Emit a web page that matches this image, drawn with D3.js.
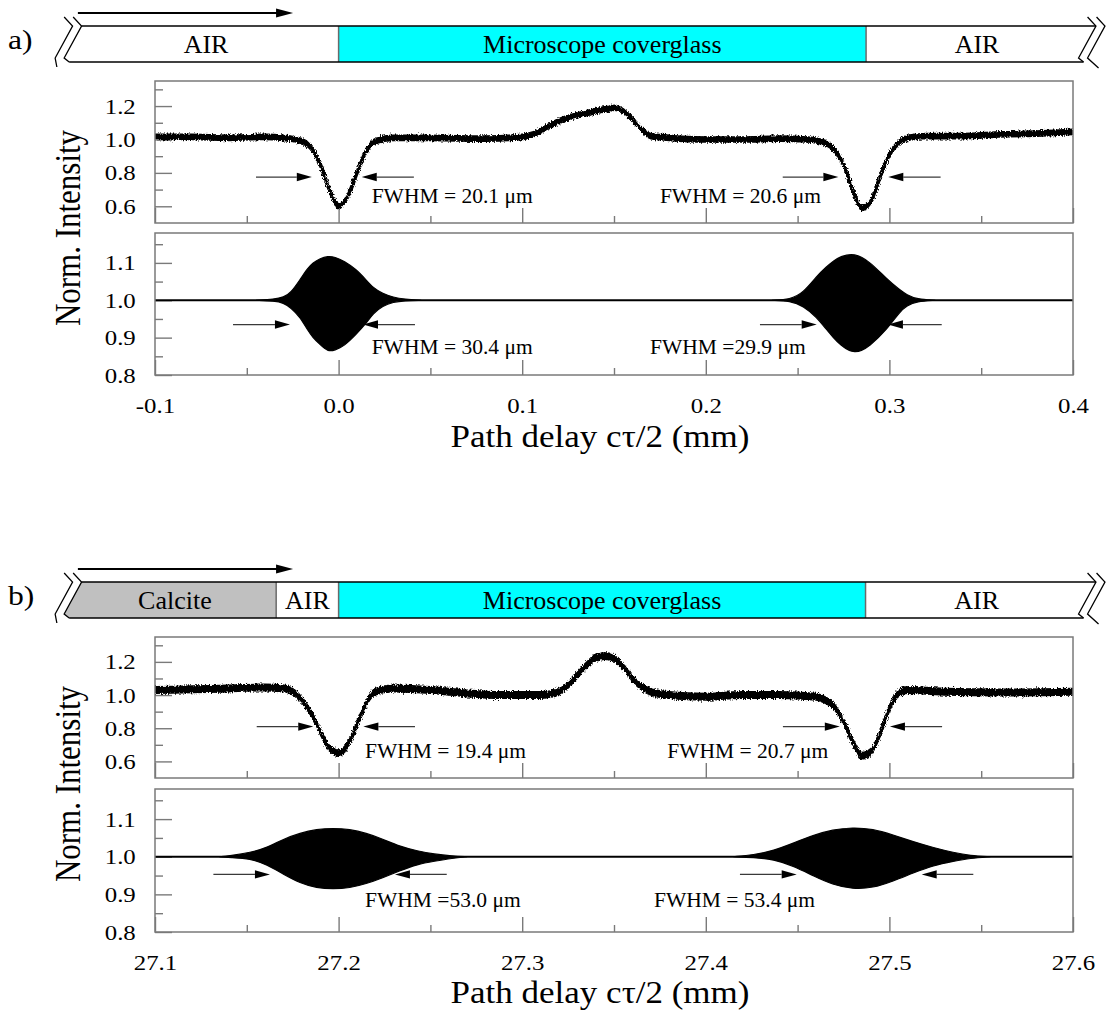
<!DOCTYPE html>
<html>
<head>
<meta charset="utf-8">
<script src="https://cdn.jsdelivr.net/npm/d3@7"></script>
<style>
  html, body { margin: 0; padding: 0; background: #fff; }
  svg { display: block; }
</style>
</head>
<body>
<script>
// ---------------- data ----------------
// (a) path delay axis, mm
const xTicksA = [-0.1, 0.0, 0.1, 0.2, 0.3, 0.4];
const xMinorA = [-0.05, 0.05, 0.15, 0.25, 0.35];
// (b) path delay axis, mm
const xTicksB = [27.1, 27.2, 27.3, 27.4, 27.5, 27.6];
const xMinorB = [27.15, 27.25, 27.35, 27.45, 27.55];

const yTicksTop = [0.6, 0.8, 1.0, 1.2];
const yMinorTop = [0.7, 0.9, 1.1, 1.3];
const yTicksBottom = [0.8, 0.9, 1.0, 1.1];
const yMinorBottom = [0.85, 0.95, 1.05, 1.15];

// sample structure along the beam
const layerEdgesA = [-0.14, 0.0, 0.2873, 0.4125];
const layerNamesA = ["AIR", "Microscope coverglass", "AIR"];
const layerEdgesB = [27.06, 27.166, 27.2, 27.487, 27.6125];
const layerNamesB = ["Calcite", "AIR", "Microscope coverglass", "AIR"];
const beamA = [-0.142, -0.0248];
const beamB = [27.058, 27.1752];

// (a) upper trace: normalized intensity (band centre)
const delayA = [-0.1,-0.08,-0.06,-0.04,-0.03,-0.02,-0.015,-0.01,-0.005,0,0.005,0.01,0.015,0.02,0.03,0.05,0.08,0.1,0.106,0.113,0.12,0.13,0.14,0.145,0.15,0.155,0.16,0.165,0.17,0.18,0.2,0.22,0.24,0.255,0.265,0.27,0.275,0.28,0.285,0.29,0.295,0.3,0.305,0.31,0.32,0.34,0.36,0.38,0.4];
const intensityA = [1.015,1.015,1.01,1.015,1.01,0.99,0.95,0.85,0.70,0.60,0.66,0.80,0.93,0.99,1.01,1.01,1.005,1.015,1.03,1.07,1.11,1.145,1.17,1.18,1.19,1.17,1.12,1.06,1.02,1.01,1.0,1.0,1.005,1.0,0.98,0.94,0.85,0.70,0.59,0.63,0.78,0.91,0.98,1.01,1.02,1.02,1.03,1.035,1.045];
const noiseA = 0.02;

// (b) upper trace
const delayB = [27.1,27.12,27.14,27.16,27.17,27.175,27.18,27.185,27.19,27.195,27.2,27.205,27.21,27.215,27.22,27.23,27.25,27.27,27.29,27.31,27.32,27.325,27.33,27.335,27.34,27.345,27.35,27.355,27.36,27.365,27.37,27.38,27.4,27.42,27.44,27.46,27.465,27.47,27.475,27.48,27.485,27.49,27.495,27.5,27.505,27.51,27.53,27.56,27.6];
const intensityB = [1.03,1.035,1.04,1.045,1.04,1.02,0.97,0.89,0.78,0.68,0.65,0.70,0.82,0.95,1.02,1.04,1.03,1.01,1.0,1.0,1.02,1.06,1.12,1.18,1.225,1.235,1.22,1.17,1.10,1.05,1.02,1.0,0.99,1.0,1.0,0.99,0.97,0.93,0.84,0.72,0.635,0.66,0.77,0.92,1.01,1.03,1.02,1.015,1.02];
const noiseB = 0.024;

// (a) lower: interferogram fringe envelopes
const packetA1X = [-0.045,-0.035,-0.03,-0.026,-0.021,-0.017,-0.014,-0.010,-0.006,-0.002,0.003,0.0098,0.0145,0.0189,0.024,0.0297,0.036,0.045];
const packetA1Upper = [1.0,1.003,1.008,1.02,1.055,1.085,1.10,1.112,1.118,1.116,1.105,1.082,1.057,1.033,1.018,1.008,1.003,1.0];
const packetA1Lower = [1.0,0.998,0.993,0.98,0.955,0.921,0.900,0.881,0.863,0.866,0.877,0.910,0.935,0.965,0.985,0.995,0.999,1.0];
const packetA2X = [0.236,0.246,0.2531,0.2603,0.2658,0.2695,0.2731,0.281,0.2894,0.2985,0.3058,0.3094,0.3149,0.325];
const packetA2Upper = [1.0,1.002,1.02,1.064,1.09,1.105,1.117,1.127,1.103,1.057,1.027,1.015,1.003,1.0];
const packetA2Lower = [1.0,0.998,0.985,0.955,0.921,0.900,0.881,0.854,0.877,0.921,0.970,0.985,0.997,1.0];

// (b) lower: interferogram fringe envelopes
const packetB1X = [27.135,27.141,27.152,27.161,27.170,27.179,27.188,27.197,27.206,27.215,27.224,27.233,27.243,27.252,27.262,27.27];
const packetB1Upper = [1.0,1.003,1.011,1.024,1.047,1.063,1.073,1.076,1.073,1.063,1.047,1.028,1.015,1.007,1.002,1.0];
const packetB1Lower = [1.0,0.998,0.995,0.979,0.953,0.930,0.917,0.914,0.917,0.928,0.944,0.962,0.980,0.988,0.996,1.0];
const packetB2X = [27.415,27.426,27.437,27.448,27.459,27.469,27.480,27.491,27.502,27.513,27.524,27.535,27.544,27.555];
const packetB2Upper = [1.0,1.005,1.016,1.037,1.058,1.072,1.078,1.074,1.058,1.040,1.024,1.011,1.003,1.0];
const packetB2Lower = [1.0,0.998,0.993,0.975,0.948,0.926,0.914,0.917,0.935,0.957,0.977,0.988,0.996,1.0];

// FWHM markers: [left tail, left tip, right tip, right tail] at a given level
const fwhmArrowsATop = [[-0.045,-0.0146,0.0126,0.041],[0.2419,0.2722,0.2994,0.3279]];
const fwhmLevelATop = 0.775;
const fwhmTextATop = ["FWHM = 20.1 μm", "FWHM = 20.6 μm"];
const fwhmAtATop = [[0.018,0.622],[0.175,0.622]];

const fwhmArrowsABottom = [[-0.0575,-0.0265,0.0133,0.0416],[0.2295,0.2604,0.2992,0.3285]];
const fwhmLevelABottom = 0.935;
const fwhmTextABottom = ["FWHM = 30.4 μm", "FWHM =29.9 μm"];
const fwhmAtABottom = [[0.018,0.857],[0.1696,0.857]];

const fwhmArrowsBTop = [[27.1554,27.1862,27.2135,27.2416],[27.442,27.473,27.5003,27.5287]];
const fwhmLevelBTop = 0.81;
const fwhmTextBTop = ["FWHM = 19.4 μm", "FWHM = 20.7 μm"];
const fwhmAtBTop = [[27.2144,0.62],[27.379,0.62]];

const fwhmArrowsBBottom = [[27.1318,27.1626,27.2307,27.2589],[27.4186,27.4495,27.5176,27.5457]];
const fwhmLevelBBottom = 0.953;
const fwhmTextBBottom = ["FWHM =53.0 μm", "FWHM = 53.4 μm"];
const fwhmAtBBottom = [[27.2144,0.866],[27.3718,0.866]];

// ---------------- layout ----------------
const W = 1106, H = 1015;
const SERIF = "'Liberation Serif','Times New Roman',Times,serif";
const STRETCH = 1.13;          // wide lettering of the axis labels
const FRAME = "#7a7a7a";
const LAYER_FILL = { "AIR": "#ffffff", "Calcite": "#c0c0c0", "Microscope coverglass": "#00ffff" };
const tickFmt = d3.formatLocale({ decimal: ".", thousands: ",", grouping: [3], currency: ["", ""], minus: "-" }).format(".1f");

const plotL = 155, plotR = 1073;

const svg = d3.select("body").append("svg")
  .attr("width", W).attr("height", H)
  .attr("viewBox", `0 0 ${W} ${H}`)
  .style("font-family", SERIF);

const defs = svg.append("defs");
// fine grain for the noisy detector traces
const grain = defs.append("filter").attr("id", "grain")
  .attr("x", "-2%").attr("y", "-20%").attr("width", "104%").attr("height", "140%");
grain.append("feTurbulence").attr("type", "fractalNoise")
  .attr("baseFrequency", "1.4 0.5").attr("numOctaves", 2).attr("seed", 7).attr("result", "t");
grain.append("feDisplacementMap").attr("in", "SourceGraphic").attr("in2", "t")
  .attr("scale", 5).attr("xChannelSelector", "R").attr("yChannelSelector", "G");

const figures = [
  {
    id: "a", dy: 0, tag: "a)", xDomain: [-0.1, 0.4],
    xTicks: xTicksA, xMinor: xMinorA,
    edges: layerEdgesA, names: layerNamesA, beam: beamA,
    trace: { x: delayA, y: intensityA, noise: noiseA },
    packets: [[packetA1X, packetA1Upper, packetA1Lower], [packetA2X, packetA2Upper, packetA2Lower]],
    fwhmTop: { arrows: fwhmArrowsATop, level: fwhmLevelATop, text: fwhmTextATop, at: fwhmAtATop },
    fwhmBottom: { arrows: fwhmArrowsABottom, level: fwhmLevelABottom, text: fwhmTextABottom, at: fwhmAtABottom },
    topPanel: [81, 223], bottomPanel: [233, 375]
  },
  {
    id: "b", dy: 556, tag: "b)", xDomain: [27.1, 27.6],
    xTicks: xTicksB, xMinor: xMinorB,
    edges: layerEdgesB, names: layerNamesB, beam: beamB,
    trace: { x: delayB, y: intensityB, noise: noiseB },
    packets: [[packetB1X, packetB1Upper, packetB1Lower], [packetB2X, packetB2Upper, packetB2Lower]],
    fwhmTop: { arrows: fwhmArrowsBTop, level: fwhmLevelBTop, text: fwhmTextBTop, at: fwhmAtBTop },
    fwhmBottom: { arrows: fwhmArrowsBBottom, level: fwhmLevelBBottom, text: fwhmTextBBottom, at: fwhmAtBBottom },
    topPanel: [81, 222], bottomPanel: [233, 376]
  }
];

figures.forEach(drawFigure);

function drawFigure(f) {
  const g = svg.append("g").attr("transform", `translate(0,${f.dy})`);
  const x = d3.scaleLinear().domain(f.xDomain).range([plotL, plotR]);

  drawBanner(g, f, x);

  // panel tag
  g.append("text").attr("transform", `translate(8,49) scale(${STRETCH},1)`)
    .attr("font-size", 28).attr("fill", "#000").text(f.tag);

  // ----- upper panel: intensity trace -----
  const yT = d3.scaleLinear().domain([0.5, 1.35]).range([f.topPanel[1], f.topPanel[0]]);
  const top = panel(g, f.id + "t", x, yT, f.topPanel, f.xTicks, f.xMinor, yTicksTop, yMinorTop, false);
  const pts = f.trace.x.map((d, i) => [d, f.trace.y[i]]);
  const band = d3.area().curve(d3.curveMonotoneX)
    .x(d => x(d[0])).y0(d => yT(d[1] - f.trace.noise)).y1(d => yT(d[1] + f.trace.noise));
  const mid = d3.line().curve(d3.curveMonotoneX).x(d => x(d[0])).y(d => yT(d[1]));
  const tr = top.plot.append("g").attr("filter", "url(#grain)");
  tr.append("path").datum(pts).attr("d", band).attr("fill", "#000");
  tr.append("path").datum(pts).attr("d", mid).attr("fill", "none").attr("stroke", "#000").attr("stroke-width", 3.8);
  fwhm(top.over, x, yT, f.fwhmTop);

  // ----- lower panel: interferogram -----
  const yB = d3.scaleLinear().domain([0.8, 1.18]).range([f.bottomPanel[1], f.bottomPanel[0]]);
  const bot = panel(g, f.id + "b", x, yB, f.bottomPanel, f.xTicks, f.xMinor, yTicksBottom, yMinorBottom, true);
  bot.plot.append("path")
    .datum(f.xDomain)
    .attr("d", d3.line().x(d => x(d)).y(() => yB(1.0)))
    .attr("stroke", "#000").attr("stroke-width", 1.9).attr("fill", "none");
  const env = d3.area().curve(d3.curveBasis)
    .x(d => x(d[0])).y0(d => yB(d[2])).y1(d => yB(d[1]));
  f.packets.forEach(p => {
    const rows = p[0].map((d, i) => [d, p[1][i], p[2][i]]);
    bot.plot.append("path").datum(rows).attr("d", env)
      .attr("fill", "#000").attr("stroke", "#000").attr("stroke-width", 1.2);
  });
  fwhm(bot.over, x, yB, f.fwhmBottom);

  // axis titles
  g.append("text")
    .attr("transform", `translate(${600},${447}) scale(${STRETCH},1)`)
    .attr("text-anchor", "middle").attr("font-size", 31).attr("fill", "#000")
    .text("Path delay cτ/2 (mm)");
  g.append("text")
    .attr("transform", `translate(${80},${228}) scale(${STRETCH},1) rotate(-90)`)
    .attr("text-anchor", "middle").attr("font-size", 31).attr("fill", "#000")
    .text("Norm. Intensity");
}

function panel(g, key, x, y, span, xt, xm, yt, ym, labelled) {
  const [t, b] = span;
  const cid = "clip-" + key;
  defs.append("clipPath").attr("id", cid)
    .append("rect").attr("x", plotL).attr("y", t).attr("width", plotR - plotL).attr("height", b - t);

  const pg = g.append("g");
  // x ticks (inward from the bottom edge)
  const xMajor = pg.append("g").attr("transform", `translate(0,${b})`)
    .call(d3.axisBottom(x).tickValues(xt).tickSizeInner(-15).tickSizeOuter(0)
      .tickPadding(22.5).tickFormat(labelled ? tickFmt : () => ""));
  const xMin = pg.append("g").attr("transform", `translate(0,${b})`)
    .call(d3.axisBottom(x).tickValues(xm).tickSizeInner(-7).tickSizeOuter(0).tickFormat(() => ""));
  // y ticks (inward from the left edge)
  const yMajor = pg.append("g").attr("transform", `translate(${plotL},0)`)
    .call(d3.axisLeft(y).tickValues(yt).tickSizeInner(-17).tickSizeOuter(0)
      .tickPadding(17).tickFormat(tickFmt));
  const yMin = pg.append("g").attr("transform", `translate(${plotL},0)`)
    .call(d3.axisLeft(y).tickValues(ym).tickSizeInner(-8).tickSizeOuter(0).tickFormat(() => ""));
  [xMajor, xMin, yMajor, yMin].forEach(a => {
    a.attr("font-family", SERIF).attr("font-size", 22);
    a.select(".domain").remove();
    a.selectAll(".tick line").attr("stroke", FRAME).attr("stroke-width", 1.4);
    a.selectAll("text").attr("font-family", SERIF).attr("font-size", 22).attr("fill", "#000")
      .attr("transform", `scale(${STRETCH},1)`);
  });

  const plot = g.append("g").attr("clip-path", `url(#${cid})`);
  const over = g.append("g");
  g.append("rect").attr("x", plotL).attr("y", t).attr("width", plotR - plotL).attr("height", b - t)
    .attr("fill", "none").attr("stroke", FRAME).attr("stroke-width", 1.5);
  return { plot, over };
}

function fwhm(g, x, y, spec) {
  const yy = y(spec.level);
  const head = 15, half = 4.2;
  spec.arrows.forEach(a => {
    const pairs = [[a[0], a[1]], [a[3], a[2]]];
    pairs.forEach(([tail, tip]) => {
      const xt = x(tail), xp = x(tip), dir = Math.sign(xp - xt);
      g.append("line").attr("x1", xt).attr("x2", xp - dir * head)
        .attr("y1", yy).attr("y2", yy).attr("stroke", "#3a3a3a").attr("stroke-width", 1.3);
      g.append("path")
        .attr("d", `M${xp},${yy}L${xp - dir * head},${yy - half}L${xp - dir * head},${yy + half}Z`)
        .attr("fill", "#000");
    });
  });
  spec.text.forEach((s, i) => {
    g.append("text").attr("x", x(spec.at[i][0])).attr("y", y(spec.at[i][1]))
      .attr("font-size", 21.5).attr("fill", "#000").text(s);
  });
}

function drawBanner(g, f, x) {
  const top = 26, bot = 62;
  const xl = x(f.edges[0]), xr = x(f.edges[f.edges.length - 1]);
  const outline = [[xl, top], [xr, top], [xr - 17.4, bot - 4], [xr - 12.4, bot],
                   [xl - 12.4, bot], [xl - 17.4, bot - 4]];
  const cid = "banner-" + f.id;
  defs.append("clipPath").attr("id", cid)
    .append("path").attr("d", d3.line()(outline) + "Z");

  const fills = g.append("g").attr("clip-path", `url(#${cid})`);
  f.names.forEach((n, i) => {
    const a = i === 0 ? xl - 40 : x(f.edges[i]);
    const b = i === f.names.length - 1 ? xr + 10 : x(f.edges[i + 1]);
    fills.append("rect").attr("x", a).attr("y", top).attr("width", b - a).attr("height", bot - top)
      .attr("fill", LAYER_FILL[n]);
  });
  // layer boundaries
  f.edges.slice(1, -1).forEach(e => {
    g.append("line").attr("x1", x(e)).attr("x2", x(e)).attr("y1", top).attr("y2", bot)
      .attr("stroke", "#6a6a6a").attr("stroke-width", 1.5);
  });
  // layer names
  f.names.forEach((n, i) => {
    const a = i === 0 ? xl - 8 : x(f.edges[i]);
    const b = i === f.names.length - 1 ? xr - 8 : x(f.edges[i + 1]);
    g.append("text").attr("x", (a + b) / 2).attr("y", 53).attr("text-anchor", "middle")
      .attr("font-size", 26).attr("fill", "#000").text(n);
  });
  // top and bottom borders
  const ln = d3.line();
  g.append("path").attr("d", ln([[xl, top], [xr, top]])).attr("stroke", "#000").attr("stroke-width", 1.6);
  g.append("path").attr("d", ln([[xl - 12.4, bot], [xr - 12.4, bot]])).attr("stroke", "#000").attr("stroke-width", 1.6);
  // broken ends, drawn as double zig-zags
  const zig = (xe, shift, tailDx, tailDy) => [[xe + shift - 8.4, top - 9], [xe + shift, top],
      [xe + shift - 17.4, bot - 4], [xe + shift - 12.4 + tailDx, bot + tailDy]];
  [[xl, 0, 0, 0], [xl, -9, -3.3, 5], [xr, 0, 0, 0], [xr, 9, 6, 6]].forEach(([xe, s, tx, ty]) => {
    g.append("path").attr("d", ln(zig(xe, s, tx, ty))).attr("fill", "none")
      .attr("stroke", "#000").attr("stroke-width", 1.3).attr("stroke-linejoin", "miter");
  });
  // beam direction arrow
  const ay = 13, x0 = x(f.beam[0]), x1 = x(f.beam[1]);
  g.append("line").attr("x1", x0).attr("x2", x1 - 16).attr("y1", ay).attr("y2", ay)
    .attr("stroke", "#000").attr("stroke-width", 2);
  g.append("path").attr("d", `M${x1},${ay}L${x1 - 17},${ay - 4.5}L${x1 - 17},${ay + 4.5}Z`).attr("fill", "#000");
}
</script>
</body>
</html>
